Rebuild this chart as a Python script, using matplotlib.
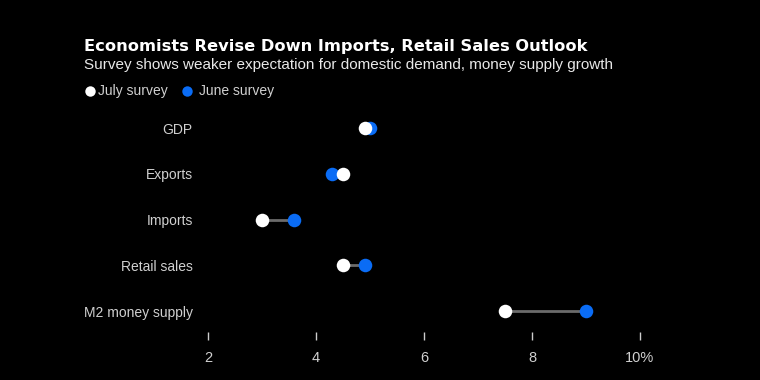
import matplotlib.pyplot as plt
from matplotlib.lines import Line2D
import numpy as np

categories = ["GDP", "Exports", "Imports", "Retail sales", "M2 money supply"]
july = [4.9, 4.5, 3.0, 4.5, 7.5]
june = [5.0, 4.3, 3.6, 4.9, 9.0]
xticks = [2, 4, 6, 8, 10]
xticklabels = ["2", "4", "6", "8", "10%"]

W, H = 760, 380
bg = "#000000"
blue = "#0a6cf5"

plt.rcParams['font.family'] = ['Liberation Sans', 'DejaVu Sans']
fig = plt.figure(figsize=(W / 100, H / 100), dpi=100, facecolor=bg)

# axes placed in pixel coords
left, right, top, bottom = 208, 640, 105, 332
ax = fig.add_axes([left / W, 1 - bottom / H, (right - left) / W, (bottom - top) / H])
ax.set_facecolor(bg)

y = np.arange(len(categories))
for i in y:
    ax.plot([july[i], june[i]], [i, i], color="#6b6b6b", lw=2, zorder=1, solid_capstyle="butt")
ax.scatter(june, y, s=95, color=blue, zorder=2, linewidths=0)
ax.scatter(july, y, s=95, color="white", zorder=3, linewidths=0)

ax.set_xlim(2, 10)
# rows: GDP at px 128, M2 at px 311
row0, row4 = 128, 311
step = (row4 - row0) / 4
ax.set_ylim(4 + (bottom - row4) / step, 0 - (row0 - top) / step)
ax.set_yticks(y)
ax.set_yticklabels(categories)
ax.set_xticks(xticks)
ax.set_xticklabels(xticklabels)
for s in ax.spines.values():
    s.set_visible(False)
ax.tick_params(axis='y', length=0, pad=11, labelsize=10, labelcolor="#d0d0d0")
ax.tick_params(axis='x', length=6, width=1, color="#cccccc", pad=8, labelsize=10.5, labelcolor="#d0d0d0")

fig.text(84 / W, 1 - 46 / H, "Economists Revise Down Imports, Retail Sales Outlook",
         color="white", fontsize=11.7, fontweight="bold", va="center", ha="left",
         family="DejaVu Sans")
fig.text(84 / W, 1 - 65 / H, "Survey shows weaker expectation for domestic demand, money supply growth",
         color="#e8e8e8", fontsize=11, va="center", ha="left")

# legend
fig.add_artist(Line2D([90 / W], [1 - 91 / H], marker="o", markersize=7.5, color="white",
                      markeredgewidth=0, linestyle="none"))
fig.text(98 / W, 1 - 91 / H, "July survey", color="#d0d0d0", fontsize=10, va="center", ha="left")
fig.add_artist(Line2D([187 / W], [1 - 91 / H], marker="o", markersize=7.5, color=blue,
                      markeredgewidth=0, linestyle="none"))
fig.text(199 / W, 1 - 91 / H, "June survey", color="#d0d0d0", fontsize=10, va="center", ha="left")

fig.savefig("out.png", dpi=100, facecolor=bg)
